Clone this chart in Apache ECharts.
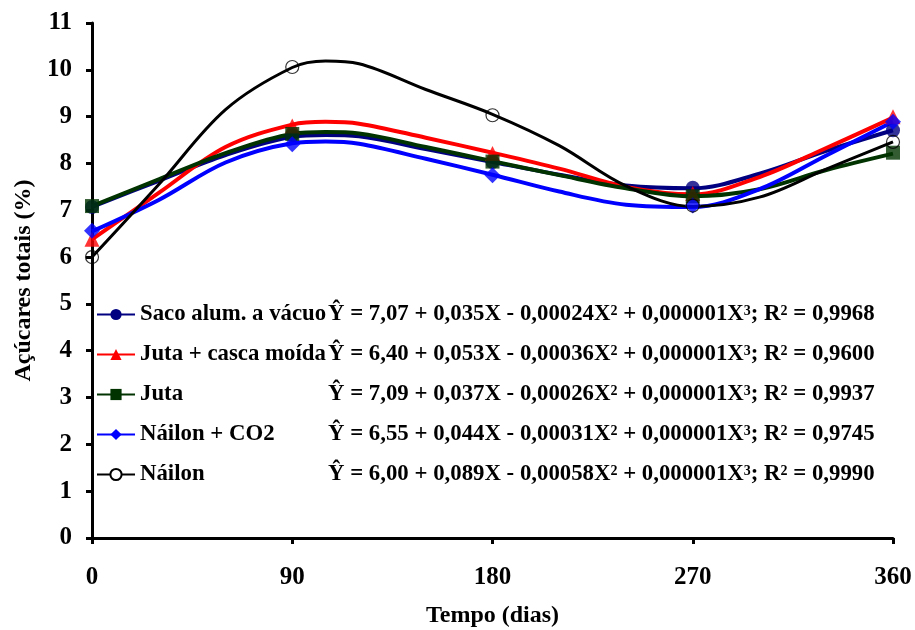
<!DOCTYPE html>
<html><head><meta charset="utf-8">
<script src="https://cdn.jsdelivr.net/npm/echarts@6/dist/echarts.min.js"></script>
<style>html,body{margin:0;padding:0;background:#fff}#c{width:915px;height:630px}</style>
</head><body><div id="c"></div>
<script>
// ---- data ----
const tempo = [0, 90, 180, 270, 360];
const names = ['Saco alum. a vácuo', 'Juta + casca moída', 'Juta', 'Náilon + CO2', 'Náilon'];
const equations = [
  'Ŷ = 7,07 + 0,035X - 0,00024X^2 + 0,000001X^3; R^2 = 0,9968',
  'Ŷ = 6,40 + 0,053X - 0,00036X^2 + 0,000001X^3; R^2 = 0,9600',
  'Ŷ = 7,09 + 0,037X - 0,00026X^2 + 0,000001X^3; R^2 = 0,9937',
  'Ŷ = 6,55 + 0,044X - 0,00031X^2 + 0,000001X^3; R^2 = 0,9745',
  'Ŷ = 6,00 + 0,089X - 0,00058X^2 + 0,000001X^3; R^2 = 0,9990'
];
// observed means (markers)
const obsSaco   = [7.07, 8.60, 8.03, 7.48, 8.71];
const obsJutaC  = [6.38, 8.80, 8.21, 7.36, 9.00];
const obsJuta   = [7.09, 8.63, 8.04, 7.30, 8.23];
const obsNCO2   = [6.56, 8.41, 7.75, 7.10, 8.89];
const obsNailon = [6.00, 10.06, 9.03, 7.10, 8.46];
// fitted curves, values at these days
const curveX    = [0, 30, 60, 90, 105, 120, 150, 180, 210, 240, 270, 300, 330, 360];
const fitSaco   = [7.07, 7.63, 8.18, 8.57, 8.61, 8.58, 8.31, 8.03, 7.76, 7.53, 7.47, 7.78, 8.27, 8.71];
const fitJutaC  = [6.38, 7.37, 8.35, 8.83, 8.89, 8.85, 8.55, 8.23, 7.89, 7.50, 7.34, 7.71, 8.33, 8.98];
const fitJuta   = [7.09, 7.66, 8.22, 8.63, 8.67, 8.64, 8.35, 8.05, 7.75, 7.47, 7.30, 7.45, 7.86, 8.21];
const fitNCO2   = [6.55, 7.22, 8.02, 8.43, 8.47, 8.42, 8.10, 7.76, 7.40, 7.12, 7.07, 7.45, 8.17, 8.89];
const fitNailon = [6.00, 7.55, 9.15, 10.05, 10.19, 10.13, 9.58, 9.05, 8.38, 7.52, 7.08, 7.28, 7.88, 8.46];
const yTicks = [0, 11, 1];
const xTicks = [0, 360, 90];

const obs = [obsSaco, obsJutaC, obsJuta, obsNCO2, obsNailon];
const fits = [fitSaco, fitJutaC, fitJuta, fitNCO2, fitNailon];
const colors = ['#000080', '#FF0000', '#003300', '#0000FF', '#000000'];
const symbols = ['circle', 'triangle', 'rect', 'diamond', 'circle'];
const symSizes = [14, 15, 14, 16, 13];
const lineW = [4, 4, 4, 4, 3];

const FONT = '"Liberation Serif", "Times New Roman", serif';
const series = [];
names.forEach((n, i) => {
  const open = i === 4;
  series.push({
    name: n, type: 'line', smooth: 0.35, showSymbol: false, symbol: symbols[i], symbolSize: symSizes[i],
    data: curveX.map((x, k) => [x, fits[i][k]]),
    lineStyle: {color: colors[i], width: lineW[i]},
    itemStyle: open ? {color: '#fff', borderColor: '#000', borderWidth: 1.2} : {color: colors[i]},
    z: 2 + i, silent: true
  });
});
names.forEach((n, i) => {
  const open = i === 4;
  series.push({
    name: n, type: 'scatter', symbol: symbols[i], symbolSize: symSizes[i],
    data: tempo.map((x, k) => [x, obs[i][k]]),
    itemStyle: open ? {color: 'rgba(0,0,0,0)', borderColor: '#000', borderWidth: 1.2} : {color: colors[i]},
    z: 10 + i, silent: true
  });
});

const chart = echarts.init(document.getElementById('c'), null, {renderer: 'canvas'});
chart.setOption({
  animation: false,
  backgroundColor: '#fff',
  grid: {left: 92, right: 22, top: 23, bottom: 92, containLabel: false, outerBoundsMode: 'none'},
  xAxis: {
    type: 'value', min: xTicks[0], max: xTicks[1], interval: xTicks[2],
    name: 'Tempo (dias)', nameLocation: 'middle', nameGap: 66,
    nameTextStyle: {fontFamily: FONT, fontWeight: 'bold', fontSize: 24, color: '#000'},
    axisLine: {lineStyle: {color: '#000', width: 3}},
    axisTick: {length: 6, lineStyle: {color: '#000', width: 3}},
    axisLabel: {fontFamily: FONT, fontWeight: 'bold', fontSize: 25, color: '#000', margin: 27},
    splitLine: {show: false}
  },
  yAxis: {
    type: 'value', min: yTicks[0], max: yTicks[1], interval: yTicks[2],
    name: 'Açúcares totais (%)', nameLocation: 'middle', nameGap: 56,
    nameTextStyle: {fontFamily: FONT, fontWeight: 'bold', fontSize: 24, color: '#000'},
    axisLine: {show: true, lineStyle: {color: '#000', width: 3}},
    axisTick: {show: true, length: 6, lineStyle: {color: '#000', width: 3}},
    axisLabel: {fontFamily: FONT, fontWeight: 'bold', fontSize: 25, color: '#000', margin: 20},
    splitLine: {show: false}
  },
  legend: {
    data: names, orient: 'vertical', left: 96, top: 303, padding: 0,
    itemWidth: 38, itemHeight: 14, itemGap: 17,
    formatter: (n) => {
      const i = names.indexOf(n);
      return '{n|' + n + '}{e|' + equations[i].replace(/\^(\d)/g, '}{s|$1}{e|') + '}';
    },
    textStyle: {
      fontFamily: FONT, fontWeight: 'bold', fontSize: 22.8, color: '#000', lineHeight: 20,
      rich: {
        n: {fontFamily: FONT, fontWeight: 'bold', fontSize: 22.8, width: 188, lineHeight: 20, color: '#000'},
        e: {fontFamily: FONT, fontWeight: 'bold', fontSize: 22.8, lineHeight: 20, color: '#000'},
        s: {fontFamily: FONT, fontWeight: 'bold', fontSize: 14, lineHeight: 20, verticalAlign: 'top', color: '#000'}
      }
    }
  },
  series: series
});
</script></body></html>
